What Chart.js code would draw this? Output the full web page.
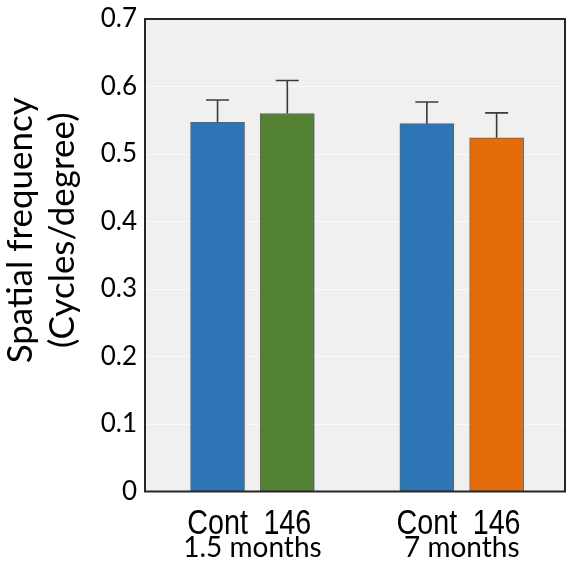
<!DOCTYPE html>
<html>
<head>
<meta charset="utf-8">
<script src="https://cdn.jsdelivr.net/npm/chart.js@4.4.1/dist/chart.umd.min.js"></script>
<style>
  html, body { margin: 0; padding: 0; background: #ffffff; }
  canvas { display: block; }
</style>
</head>
<body>
<canvas id="c" width="566" height="562"></canvas>
<script>
// ---- data ----
const groups = ['1.5 months', '7 months'];
const categories = ['Cont', '146'];
const means = [0.547, 0.560, 0.545, 0.524];
const errors = [0.033, 0.049, 0.032, 0.037];
const yTickLabels = ['0', '0.1', '0.2', '0.3', '0.4', '0.5', '0.6', '0.7'];
const yTitle = ['Spatial frequency', '(Cycles/degree)'];

// ---- styles ----
const barColors = ['#2e75b6', '#548235', '#2e75b6', '#e46c0a'];
const slot = categories.length + 1; // one empty slot between groups

const points = [];
const labelAt = {};
groups.forEach((g, gi) => {
  categories.forEach((c, ci) => {
    const k = gi * categories.length + ci;
    const x = gi * slot + ci;
    points.push({ x: x, y: means[k] });
    labelAt[x] = c;
  });
});
const groupCenters = groups.map((g, gi) => gi * slot + (categories.length - 1) / 2);

const framePlugin = {
  id: 'frame',
  beforeDraw(chart) {
    const { ctx, chartArea: a } = chart;
    ctx.save();
    ctx.fillStyle = '#f0f0f0';
    ctx.fillRect(a.left, a.top, a.right - a.left, a.bottom - a.top);
    ctx.restore();
  },
  afterDatasetsDraw(chart) {
    const { ctx } = chart;
    const xs = chart.scales.x, ys = chart.scales.y;
    ctx.save();
    ctx.strokeStyle = '#3a3a3a';
    ctx.lineWidth = 1.6;
    points.forEach((p, i) => {
      const px = xs.getPixelForValue(p.x);
      const y0 = ys.getPixelForValue(p.y);
      const y1 = ys.getPixelForValue(p.y + errors[i]);
      ctx.beginPath();
      ctx.moveTo(px, y0);
      ctx.lineTo(px, y1);
      ctx.moveTo(px - 11.5, y1);
      ctx.lineTo(px + 11.5, y1);
      ctx.stroke();
    });
    ctx.restore();
  },
  afterDraw(chart) {
    const { ctx, chartArea: a } = chart;
    const xs = chart.scales.x;
    ctx.save();
    ctx.strokeStyle = '#262626';
    ctx.lineWidth = 2;
    ctx.strokeRect(a.left, a.top, a.right - a.left, a.bottom - a.top);

    // category labels under each bar (narrow face)
    ctx.fillStyle = '#000';
    ctx.font = "35px 'Liberation Sans'";
    ctx.textAlign = 'center';
    ctx.textBaseline = 'alphabetic';
    points.forEach((p) => {
      ctx.save();
      ctx.translate(xs.getPixelForValue(p.x), xs.top + 42);
      ctx.scale(0.82, 1);
      ctx.fillText(labelAt[p.x], 0, 0);
      ctx.restore();
    });

    // y axis title (two lines, rotated)
    ctx.font = "35px Lato";
    const cy = (a.top + a.bottom) / 2 - 25;
    ctx.translate(0, cy);
    ctx.rotate(-Math.PI / 2);
    ctx.fillText(yTitle[0], 0, 32);
    ctx.fillText(yTitle[1], 0, 74);
    ctx.restore();
  }
};

function build() {
  new Chart(document.getElementById('c'), {
    type: 'bar',
    data: {
      datasets: [{
        data: points,
        backgroundColor: barColors,
        borderColor: 'rgba(50,50,50,0.75)',
        borderWidth: 1,
        borderSkipped: 'bottom',
        barThickness: 54,
        xAxisID: 'x',
        yAxisID: 'y'
      }]
    },
    options: {
      responsive: false,
      devicePixelRatio: 1,
      animation: false,
      layout: { padding: { top: 19, right: 1, left: 0, bottom: 0 } },
      plugins: { legend: { display: false }, tooltip: { enabled: false } },
      scales: {
        x: {
          type: 'linear',
          position: 'bottom',
          offset: false,
          min: -1.04,
          max: 4.98,
          grid: { display: false, drawTicks: false },
          border: { display: false },
          afterBuildTicks(scale) {
            scale.ticks = Object.keys(labelAt).map(v => ({ value: Number(v) }));
          },
          afterFit(scale) { scale.height = 40; scale.paddingLeft = 0; scale.paddingRight = 0; },
          ticks: { display: false }
        },
        x2: {
          type: 'linear',
          position: 'bottom',
          offset: false,
          min: -1.04,
          max: 4.98,
          grid: { display: false, drawTicks: false },
          border: { display: false },
          afterBuildTicks(scale) {
            scale.ticks = groupCenters.map(v => ({ value: v }));
          },
          afterFit(scale) { scale.height = 30.5; scale.paddingLeft = 0; scale.paddingRight = 0; },
          ticks: {
            autoSkip: false,
            maxRotation: 0,
            padding: 0,
            color: '#000',
            font: { family: 'Lato', size: 28, lineHeight: 1.2 },
            callback: (v) => {
              const i = groupCenters.indexOf(v);
              return i >= 0 ? groups[i] : '';
            }
          }
        },
        y: {
          min: 0,
          max: 0.7,
          afterFit(scale) { scale.width = 145; scale.paddingTop = 0; scale.paddingBottom = 0; },
          grid: { color: '#fafafa', lineWidth: 1, drawTicks: false },
          border: { display: false },
          ticks: {
            stepSize: 0.1,
            padding: 8,
            color: '#000',
            font: { family: 'Lato', size: 26 },
            callback: (v) => yTickLabels[Math.round(v * 10)]
          },
          title: { display: false }
        }
      }
    },
    plugins: [framePlugin]
  });
}

Promise.all([
  document.fonts.load("35px Lato"),
  document.fonts.load("35px 'Liberation Sans'")
]).catch(() => {}).then(build);
</script>
</body>
</html>
